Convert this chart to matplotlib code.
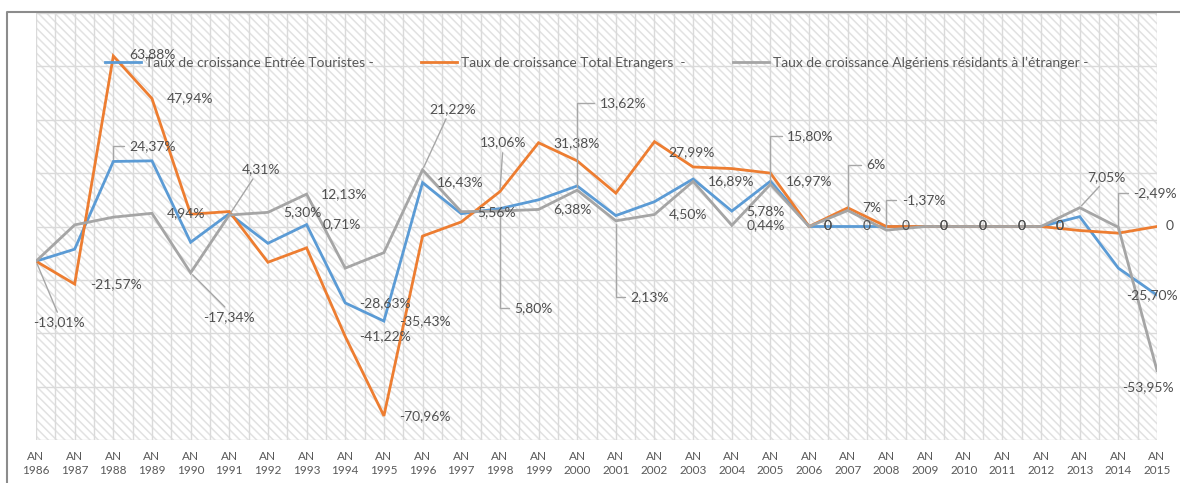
"""
Taux de croissance des arrivées 1986-2015 (recreated chart)
"""

import matplotlib
matplotlib.use('Agg')
import matplotlib.pyplot as plt
from matplotlib.patches import Rectangle
from matplotlib.lines import Line2D

# ---- data -------------------------------------------------------------
years = list(range(1986, 2016))

entree_touristes = [-13.01, -8.5, 24.37, 24.6, -5.9, 4.8, -6.3, 0.71, -28.63, -35.43,
                    16.43, 4.8, 6.7, 10.0, 15.2, 4.1, 9.3, 17.8, 5.78, 16.97,
                    0, 0, 0, 0, 0, 0, 0, 3.7, -15.6, -25.70]

total_etrangers = [-13.01, -21.57, 63.88, 47.94, 4.6, 5.6, -13.4, -8.0, -41.22, -70.96,
                   -3.6, 1.7, 13.06, 31.38, 24.6, 12.5, 31.8, 22.3, 21.7, 20.0,
                   0, 7.0, 0, 0, 0, 0, 0, -1.5, -2.49, 0]

algeriens_etranger = [-13.01, 0.6, 3.5, 4.94, -17.34, 4.31, 5.30, 12.13, -15.6, -9.8,
                      21.22, 5.56, 5.80, 6.38, 13.62, 2.13, 4.50, 16.89, 0.44, 15.80,
                      0, 6.0, -1.37, 0, 0, 0, 0, 7.05, -0.3, -53.95]

series_names = ['Taux de croissance Entrée Touristes -',
                'Taux de croissance Total Etrangers  -',
                'Taux de croissance Algériens résidants à l\u2019étranger -']

# data labels: (series, year, text)
point_labels = [
    ('O', 1988, '63,88%'), ('O', 1989, '47,94%'), ('B', 1988, '24,37%'),
    ('G', 1989, '4,94%'), ('G', 1991, '4,31%'), ('G', 1993, '12,13%'),
    ('G', 1992, '5,30%'), ('B', 1993, '0,71%'), ('O', 1987, '-21,57%'),
    ('G', 1986, '-13,01%'), ('G', 1990, '-17,34%'), ('B', 1994, '-28,63%'),
    ('O', 1994, '-41,22%'), ('B', 1995, '-35,43%'), ('O', 1995, '-70,96%'),
    ('G', 1996, '21,22%'), ('B', 1996, '16,43%'), ('O', 1998, '13,06%'),
    ('G', 1998, '5,80%'), ('G', 1997, '5,56%'), ('O', 1999, '31,38%'),
    ('G', 2000, '13,62%'), ('G', 1999, '6,38%'), ('G', 2001, '2,13%'),
    ('O', 2002, '27,99%'), ('G', 2002, '4,50%'), ('G', 2003, '16,89%'),
    ('B', 2004, '5,78%'), ('G', 2004, '0,44%'), ('G', 2005, '15,80%'),
    ('B', 2005, '16,97%'), ('G', 2007, '6%'), ('O', 2007, '7%'),
    ('G', 2008, '-1,37%'), ('G', 2013, '7,05%'), ('O', 2014, '-2,49%'),
    ('B', 2015, '-25,70%'), ('G', 2015, '-53,95%'), ('O', 2015, '0'),
]
zero_label_years = [2006, 2007, 2008, 2009, 2010, 2011, 2012]

# label placement: offset in pixels (dx, dy) and leader kind
label_layout = [
    (39, 2, None), (38, 0, None), (39, 15, 'elbow'),
    (34, 0, None), (32, 46, ('line', 0.35, 0)), (38, 0, None),
    (34, 0, None), (35, 0, None), (41, 0, None),
    (23, -61, ('line', 0.5, 1)), (38, -44, ('line', 0.5, 1)), (40, 0, None),
    (40, 0, None), (41, 0, None), (41, 0, None),
    (30, 61, ('line', 0.4, 0)), (38, 0, None), (3, 49, ('line', 0.5, 0)),
    (34, -97, 'elbow'), (35, 0, None), (38, 0, None),
    (46, 87, 'elbow'), (34, 0, None), (34, -76, 'elbow'),
    (37, -11, None), (34, 0, None), (38, 0, None),
    (34, 0, None), (34, 0, None), (40, 48, 'elbow'),
    (39, 0, None), (28, 45, 'elbow'), (24, 0, None),
    (37, 30, 'elbow'), (27, 31, ('line', 0.4, 0)), (37, 40, 'elbow'),
    (-5, 0, None), (-9, -17, None), (13, 0, None),
]

COLORS = {'B': '#5b9bd5', 'O': '#ed7d31', 'G': '#a5a5a5'}
TEXT_COLOR = '#505050'
LEADER_COLOR = '#a6a6a6'


def add_label(ax, x, y, text, dx, dy, leader):
    """Data label with an optional Excel style leader line"""
    kw = dict(xytext=(dx, dy), textcoords='offset pixels', ha='center', va='center',
              fontsize=10, color=TEXT_COLOR, annotation_clip=False, zorder=6)
    if leader == 'elbow':
        kw['arrowprops'] = dict(arrowstyle='-', color=LEADER_COLOR, lw=1.0,
                                shrinkA=2, shrinkB=2, relpos=(0, 0.5),
                                connectionstyle='angle,angleA=0,angleB=90,rad=0')
    elif leader is not None:
        _, rx, ry = leader
        kw['arrowprops'] = dict(arrowstyle='-', color=LEADER_COLOR, lw=1.0,
                                shrinkA=1, shrinkB=2, relpos=(rx, ry))
    ax.annotate(text, (x, y), **kw)


def main():
    plt.rcParams['font.family'] = ['Lato', 'DejaVu Sans']
    plt.rcParams['hatch.color'] = '#e2e2e2'
    plt.rcParams['hatch.linewidth'] = 1.1

    fig = plt.figure(figsize=(11.8, 4.83), dpi=100)
    ax = fig.add_axes([36 / 1180, 1 - 440 / 483, (1157 - 36) / 1180, (440 - 13) / 483])

    # hatched plot background
    ax.add_patch(Rectangle((0, 0), 1, 1, transform=ax.transAxes, facecolor='white',
                           edgecolor='#e2e2e2', hatch='\\\\\\\\', linewidth=0, zorder=0.1))

    data = {'B': entree_touristes, 'O': total_etrangers, 'G': algeriens_etranger}
    for key, name in zip(['B', 'O', 'G'], series_names):
        ax.plot(years, data[key], color=COLORS[key], linewidth=2.0, label=name,
                zorder=3, solid_joinstyle='miter')

    # labels
    for (key, year, text), (dx, dy, leader) in zip(point_labels, label_layout):
        idx = years.index(year)
        add_label(ax, year, data[key][idx], text, dx, dy, leader)
    for year in zero_label_years:
        idx = years.index(year)
        add_label(ax, year, entree_touristes[idx], '0', 19, 0, None)
        if algeriens_etranger[idx] == 0:
            add_label(ax, year, algeriens_etranger[idx], '0', 19, 0, None)

    # axes
    ax.set_xlim(years[0], years[-1])
    ax.set_ylim(-80, 80)
    ax.set_xticks(years)
    ax.set_xticks([y + 0.5 for y in years[:-1]], minor=True)
    ax.set_xticklabels([f'AN\n{y}' for y in years], fontsize=8.5, color='#595959',
                       linespacing=1.35)
    ax.set_yticks(range(-80, 81, 20))
    ax.set_yticklabels([])
    ax.tick_params(axis='both', which='both', length=0)
    ax.tick_params(axis='x', pad=8)
    ax.grid(True, which='both', color='#dadada', linewidth=1.0, zorder=0.5)
    ax.set_axisbelow(True)
    for spine in ax.spines.values():
        spine.set_visible(False)

    ax.legend(loc='center', bbox_to_anchor=(0.5, 0.883), ncol=3, frameon=False,
              fontsize=10, labelcolor='#595959', handlelength=2.6, handletextpad=0.3,
              columnspacing=3.4)

    # outer chart border (left and top)
    fig.add_artist(Line2D([7 / 1180, 7 / 1180, 1.0], [0.0, 1 - 12 / 483, 1 - 12 / 483],
                          transform=fig.transFigure, color='#8c8c8c', linewidth=1.5))

    fig.savefig('out.png', dpi=100)
    plt.close(fig)


if __name__ == "__main__":
    main()
